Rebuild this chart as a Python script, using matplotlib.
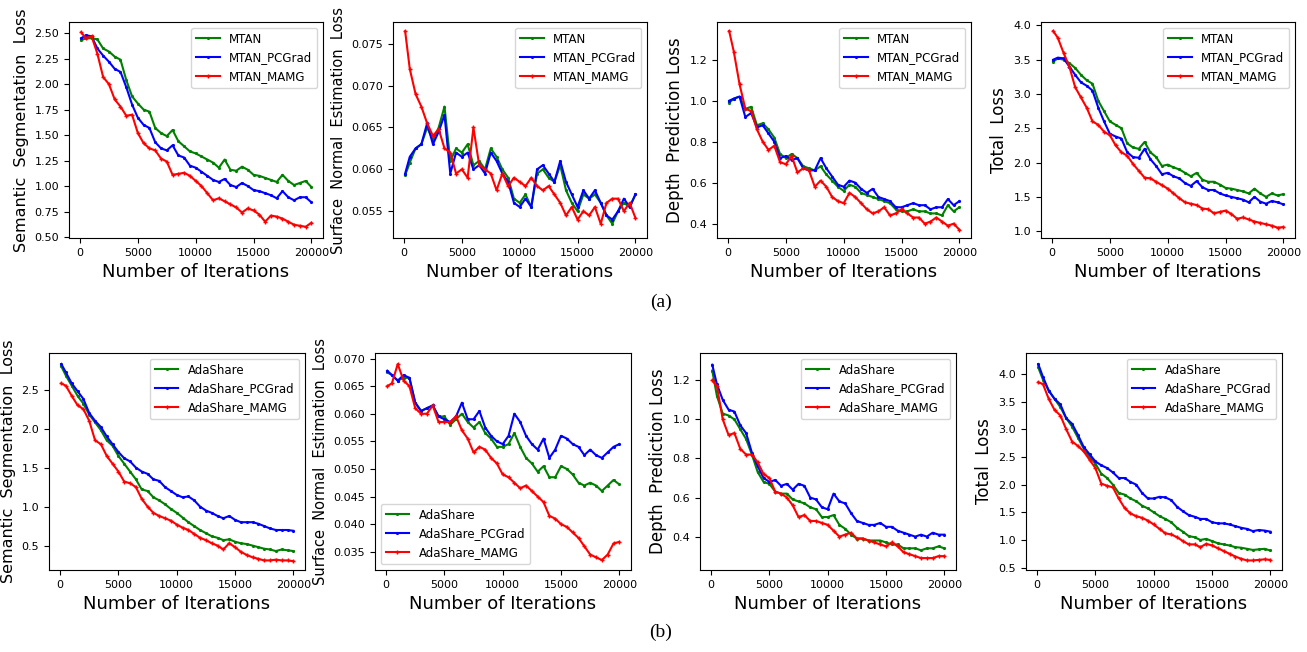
import matplotlib
matplotlib.use("Agg")
import matplotlib.pyplot as plt
import numpy as np

# iterations (common grid)
iters = [100] + list(range(500, 20001, 500))

# ---------------- (a) MTAN ----------------
mtan_seg = [2.43, 2.45, 2.45, 2.44, 2.35, 2.32, 2.27, 2.24, 2.04, 1.88, 1.81, 1.75, 1.73, 1.57,
            1.52, 1.49, 1.55, 1.44, 1.39, 1.34, 1.32, 1.29, 1.26, 1.23, 1.18, 1.26, 1.16, 1.15,
            1.19, 1.16, 1.11, 1.10, 1.08, 1.06, 1.04, 1.11, 1.05, 1.01, 1.03, 1.05, 0.99]
mtan_pc_seg = [2.45, 2.48, 2.47, 2.35, 2.28, 2.22, 2.15, 2.12, 1.97, 1.80, 1.67, 1.60, 1.57, 1.43,
               1.37, 1.35, 1.40, 1.30, 1.28, 1.20, 1.18, 1.14, 1.10, 1.06, 1.04, 1.07, 1.01, 0.99,
               1.03, 1.00, 0.96, 0.95, 0.93, 0.91, 0.88, 0.95, 0.89, 0.86, 0.89, 0.89, 0.84]
mtan_ma_seg = [2.51, 2.45, 2.47, 2.30, 2.07, 2.00, 1.85, 1.78, 1.69, 1.70, 1.52, 1.42, 1.37, 1.35,
               1.27, 1.24, 1.11, 1.12, 1.13, 1.10, 1.05, 1.00, 0.93, 0.86, 0.88, 0.85, 0.82, 0.79,
               0.74, 0.78, 0.76, 0.72, 0.65, 0.71, 0.70, 0.68, 0.65, 0.62, 0.61, 0.60, 0.64]

mtan_sn = [0.0593, 0.0608, 0.0625, 0.0630, 0.0650, 0.0635, 0.0650, 0.0675, 0.0610, 0.0625, 0.0620,
           0.0630, 0.0605, 0.0610, 0.0600, 0.0625, 0.0615, 0.0600, 0.0590, 0.0565, 0.0560, 0.0570,
           0.0555, 0.0595, 0.0600, 0.0590, 0.0585, 0.0605, 0.0575, 0.0560, 0.0550, 0.0570, 0.0565,
           0.0570, 0.0560, 0.0545, 0.0535, 0.0550, 0.0560, 0.0555, 0.0570]
mtan_pc_sn = [0.0595, 0.0615, 0.0625, 0.0630, 0.0655, 0.0630, 0.0645, 0.0665, 0.0595, 0.0620, 0.0615,
              0.0620, 0.0600, 0.0605, 0.0595, 0.0620, 0.0610, 0.0595, 0.0585, 0.0560, 0.0555, 0.0565,
              0.0555, 0.0600, 0.0605, 0.0595, 0.0585, 0.0610, 0.0585, 0.0570, 0.0555, 0.0575, 0.0565,
              0.0575, 0.0560, 0.0545, 0.0540, 0.0550, 0.0565, 0.0555, 0.0570]
mtan_ma_sn = [0.0765, 0.0720, 0.0690, 0.0675, 0.0655, 0.0640, 0.0648, 0.0625, 0.0620, 0.0595, 0.0600,
              0.0590, 0.0650, 0.0605, 0.0600, 0.0595, 0.0575, 0.0595, 0.0580, 0.0590, 0.0585, 0.0580,
              0.0590, 0.0580, 0.0575, 0.0580, 0.0570, 0.0560, 0.0545, 0.0555, 0.0540, 0.0550, 0.0545,
              0.0555, 0.0535, 0.0560, 0.0565, 0.0565, 0.0550, 0.0560, 0.0542]

mtan_dep = [0.99, 1.01, 1.02, 0.96, 0.97, 0.88, 0.89, 0.86, 0.82, 0.74, 0.72, 0.74, 0.72, 0.68,
            0.67, 0.66, 0.68, 0.64, 0.61, 0.58, 0.56, 0.59, 0.58, 0.55, 0.54, 0.53, 0.52, 0.51,
            0.50, 0.47, 0.46, 0.46, 0.47, 0.46, 0.46, 0.45, 0.45, 0.44, 0.49, 0.46, 0.48]
mtan_pc_dep = [1.00, 1.01, 1.02, 0.92, 0.94, 0.87, 0.88, 0.84, 0.80, 0.72, 0.73, 0.71, 0.72, 0.67,
               0.66, 0.66, 0.72, 0.67, 0.63, 0.59, 0.58, 0.61, 0.60, 0.57, 0.55, 0.57, 0.53, 0.52,
               0.51, 0.48, 0.48, 0.49, 0.50, 0.49, 0.49, 0.47, 0.48, 0.48, 0.52, 0.49, 0.51]
mtan_ma_dep = [1.34, 1.24, 1.08, 0.96, 0.95, 0.86, 0.80, 0.76, 0.78, 0.70, 0.69, 0.73, 0.65, 0.67,
               0.66, 0.58, 0.61, 0.58, 0.53, 0.51, 0.50, 0.55, 0.53, 0.50, 0.47, 0.45, 0.46, 0.48,
               0.44, 0.45, 0.47, 0.45, 0.43, 0.43, 0.40, 0.41, 0.43, 0.41, 0.39, 0.40, 0.37]

mtan_tot = [3.47, 3.52, 3.50, 3.45, 3.38, 3.28, 3.20, 3.15, 2.90, 2.75, 2.60, 2.55, 2.50, 2.28,
            2.22, 2.20, 2.30, 2.15, 2.08, 1.95, 1.97, 1.93, 1.90, 1.85, 1.80, 1.85, 1.75, 1.72,
            1.72, 1.68, 1.63, 1.62, 1.60, 1.58, 1.55, 1.62, 1.55, 1.50, 1.55, 1.52, 1.54]
mtan_pc_tot = [3.50, 3.53, 3.52, 3.40, 3.28, 3.17, 3.12, 3.05, 2.80, 2.60, 2.42, 2.38, 2.35, 2.15,
               2.08, 2.07, 2.20, 2.05, 1.95, 1.83, 1.85, 1.80, 1.77, 1.70, 1.66, 1.73, 1.64, 1.60,
               1.60, 1.55, 1.52, 1.50, 1.48, 1.46, 1.42, 1.50, 1.43, 1.40, 1.44, 1.42, 1.39]
mtan_ma_tot = [3.92, 3.82, 3.60, 3.40, 3.10, 2.95, 2.80, 2.60, 2.55, 2.45, 2.40, 2.25, 2.15, 2.10,
               1.98, 1.88, 1.78, 1.77, 1.72, 1.67, 1.62, 1.55, 1.48, 1.42, 1.40, 1.38, 1.33, 1.32,
               1.26, 1.28, 1.30, 1.25, 1.18, 1.20, 1.17, 1.14, 1.12, 1.10, 1.08, 1.05, 1.06]

# ---------------- (b) AdaShare ----------------
ada_seg = [2.80, 2.68, 2.55, 2.42, 2.32, 2.18, 2.08, 1.98, 1.85, 1.78, 1.65, 1.55, 1.45, 1.35,
           1.22, 1.20, 1.12, 1.08, 1.03, 0.97, 0.92, 0.86, 0.80, 0.75, 0.70, 0.66, 0.62, 0.60,
           0.57, 0.58, 0.55, 0.53, 0.52, 0.50, 0.48, 0.46, 0.45, 0.43, 0.45, 0.44, 0.43]
ada_pc_seg = [2.83, 2.72, 2.58, 2.48, 2.38, 2.20, 2.10, 2.02, 1.90, 1.80, 1.70, 1.62, 1.58, 1.50,
              1.45, 1.42, 1.35, 1.33, 1.25, 1.20, 1.15, 1.12, 1.13, 1.08, 1.00, 0.95, 0.92, 0.88,
              0.85, 0.88, 0.83, 0.80, 0.80, 0.80, 0.78, 0.75, 0.72, 0.70, 0.70, 0.70, 0.69]
ada_ma_seg = [2.58, 2.55, 2.42, 2.30, 2.25, 2.10, 1.85, 1.80, 1.65, 1.55, 1.45, 1.32, 1.30, 1.25,
              1.10, 1.00, 0.92, 0.88, 0.85, 0.82, 0.77, 0.73, 0.70, 0.65, 0.60, 0.57, 0.53, 0.50,
              0.45, 0.53, 0.48, 0.42, 0.38, 0.35, 0.33, 0.31, 0.31, 0.32, 0.31, 0.31, 0.30]

ada_sn = [0.0675, 0.0670, 0.0660, 0.0665, 0.0665, 0.0620, 0.0605, 0.0610, 0.0615, 0.0595, 0.0595,
          0.0580, 0.0590, 0.0600, 0.0585, 0.0575, 0.0585, 0.0565, 0.0555, 0.0540, 0.0540, 0.0545,
          0.0565, 0.0540, 0.0520, 0.0510, 0.0495, 0.0505, 0.0485, 0.0485, 0.0505, 0.0500, 0.0490,
          0.0475, 0.0470, 0.0475, 0.0470, 0.0460, 0.0470, 0.0480, 0.0472]
ada_pc_sn = [0.0678, 0.0670, 0.0660, 0.0670, 0.0665, 0.0620, 0.0605, 0.0610, 0.0615, 0.0595, 0.0590,
             0.0585, 0.0595, 0.0620, 0.0590, 0.0590, 0.0605, 0.0575, 0.0560, 0.0550, 0.0545, 0.0560,
             0.0600, 0.0585, 0.0560, 0.0545, 0.0535, 0.0555, 0.0520, 0.0535, 0.0560, 0.0555, 0.0545,
             0.0540, 0.0525, 0.0535, 0.0525, 0.0520, 0.0530, 0.0540, 0.0545]
ada_ma_sn = [0.0650, 0.0655, 0.0690, 0.0660, 0.0650, 0.0610, 0.0600, 0.0600, 0.0615, 0.0585, 0.0585,
             0.0585, 0.0595, 0.0570, 0.0555, 0.0530, 0.0540, 0.0535, 0.0520, 0.0510, 0.0490, 0.0485,
             0.0475, 0.0465, 0.0470, 0.0460, 0.0450, 0.0440, 0.0415, 0.0410, 0.0400, 0.0395, 0.0385,
             0.0375, 0.0360, 0.0345, 0.0340, 0.0335, 0.0345, 0.0365, 0.0368]

ada_dep = [1.25, 1.12, 1.03, 1.02, 1.00, 0.95, 0.90, 0.82, 0.73, 0.68, 0.67, 0.63, 0.62, 0.62,
           0.59, 0.58, 0.57, 0.55, 0.54, 0.50, 0.50, 0.51, 0.46, 0.44, 0.41, 0.39, 0.39, 0.38,
           0.38, 0.38, 0.37, 0.36, 0.36, 0.34, 0.34, 0.34, 0.33, 0.34, 0.34, 0.35, 0.34]
ada_pc_dep = [1.28, 1.18, 1.10, 1.05, 1.04, 0.97, 0.93, 0.83, 0.76, 0.70, 0.68, 0.69, 0.66, 0.67,
              0.64, 0.67, 0.66, 0.60, 0.59, 0.55, 0.54, 0.62, 0.58, 0.57, 0.52, 0.48, 0.47, 0.46,
              0.46, 0.47, 0.45, 0.45, 0.43, 0.42, 0.41, 0.40, 0.41, 0.40, 0.42, 0.41, 0.41]
ada_ma_dep = [1.20, 1.17, 1.00, 0.92, 0.93, 0.85, 0.82, 0.82, 0.78, 0.72, 0.70, 0.63, 0.62, 0.60,
              0.56, 0.50, 0.51, 0.48, 0.48, 0.47, 0.46, 0.43, 0.40, 0.41, 0.42, 0.39, 0.39, 0.38,
              0.37, 0.36, 0.35, 0.37, 0.35, 0.32, 0.31, 0.30, 0.29, 0.29, 0.29, 0.30, 0.30]

ada_tot = [4.12, 3.90, 3.70, 3.55, 3.40, 3.20, 3.05, 2.85, 2.65, 2.50, 2.38, 2.20, 2.12, 2.00,
           1.85, 1.82, 1.75, 1.70, 1.62, 1.57, 1.50, 1.43, 1.38, 1.32, 1.22, 1.15, 1.07, 1.05,
           1.00, 1.02, 0.98, 0.94, 0.92, 0.90, 0.87, 0.86, 0.84, 0.82, 0.83, 0.84, 0.81]
ada_pc_tot = [4.18, 3.95, 3.70, 3.55, 3.45, 3.20, 3.10, 2.90, 2.68, 2.55, 2.42, 2.35, 2.30, 2.22,
              2.12, 2.12, 2.05, 2.00, 1.85, 1.75, 1.75, 1.78, 1.77, 1.72, 1.60, 1.52, 1.45, 1.42,
              1.38, 1.38, 1.32, 1.30, 1.30, 1.28, 1.25, 1.22, 1.20, 1.16, 1.18, 1.17, 1.15]
ada_ma_tot = [3.85, 3.82, 3.55, 3.35, 3.25, 3.00, 2.78, 2.70, 2.60, 2.45, 2.30, 2.02, 1.98, 1.95,
              1.75, 1.58, 1.48, 1.43, 1.40, 1.35, 1.28, 1.20, 1.12, 1.10, 1.05, 0.98, 0.92, 0.92,
              0.87, 0.93, 0.90, 0.85, 0.80, 0.75, 0.70, 0.66, 0.63, 0.63, 0.64, 0.65, 0.64]

mtan_names = ['MTAN', 'MTAN_PCGrad', 'MTAN_MAMG']
ada_names = ['AdaShare', 'AdaShare_PCGrad', 'AdaShare_MAMG']

fig = plt.figure(figsize=(13.07, 6.52), dpi=100)
W, H = 1307.0, 652.0


def make_ax(x0, x1, y0, y1):
    return fig.add_axes([x0 / W, 1 - y1 / H, (x1 - x0) / W, (y1 - y0) / H])


def draw(ax, series, names, ylabel, ylim, yticks, ylsize, loc='upper right'):
    colors = ['g', 'b', 'r']
    markers = ['.', '.', '+']
    for ys, name, c, m in zip(series, names, colors, markers):
        ax.plot(iters, ys, color=c, marker=m, markersize=2.5, linewidth=1.5, label=name)
    ax.set_xlim(-950, 21000)
    ax.set_ylim(*ylim)
    ax.set_xticks([0, 5000, 10000, 15000, 20000])
    ax.set_yticks(yticks)
    ax.tick_params(labelsize=8)
    ax.set_xlabel('Number of Iterations', fontsize=13)
    ax.set_ylabel(ylabel, fontsize=ylsize)
    ax.legend(loc=loc, fontsize=8.5)


top = (22, 238)
bot = (353, 570)

a1 = make_ax(69, 323, *top)
draw(a1, [mtan_seg, mtan_pc_seg, mtan_ma_seg], mtan_names, 'Semantic  Segmentation  Loss',
     (0.49, 2.61), [0.5, 0.75, 1.0, 1.25, 1.5, 1.75, 2.0, 2.25, 2.5], 11.5)
a1.set_yticklabels(['0.50', '0.75', '1.00', '1.25', '1.50', '1.75', '2.00', '2.25', '2.50'])

a2 = make_ax(393, 647, *top)
draw(a2, [mtan_sn, mtan_pc_sn, mtan_ma_sn], mtan_names, 'Surface  Normal  Estimation  Loss',
     (0.0518, 0.0776), [0.055, 0.060, 0.065, 0.070, 0.075], 10.5)
a2.set_yticklabels(['0.055', '0.060', '0.065', '0.070', '0.075'])

a3 = make_ax(717, 971, *top)
draw(a3, [mtan_dep, mtan_pc_dep, mtan_ma_dep], mtan_names, 'Depth  Prediction Loss',
     (0.33, 1.384), [0.4, 0.6, 0.8, 1.0, 1.2], 12)

a4 = make_ax(1041, 1295, *top)
draw(a4, [mtan_tot, mtan_pc_tot, mtan_ma_tot], mtan_names, 'Total  Loss',
     (0.90, 4.05), [1.0, 1.5, 2.0, 2.5, 3.0, 3.5, 4.0], 12)

b1 = make_ax(49, 305, *bot)
draw(b1, [ada_seg, ada_pc_seg, ada_ma_seg], ada_names, 'Semantic  Segmentation  Loss',
     (0.187, 2.97), [0.5, 1.0, 1.5, 2.0, 2.5], 11.5)

b2 = make_ax(375, 631, *bot)
draw(b2, [ada_sn, ada_pc_sn, ada_ma_sn], ada_names, 'Surface  Normal  Estimation  Loss',
     (0.0317, 0.0710), [0.035, 0.040, 0.045, 0.050, 0.055, 0.060, 0.065, 0.070], 10.5,
     loc='lower left')
b2.set_yticklabels(['0.035', '0.040', '0.045', '0.050', '0.055', '0.060', '0.065', '0.070'])

b3 = make_ax(700, 956, *bot)
draw(b3, [ada_dep, ada_pc_dep, ada_ma_dep], ada_names, 'Depth  Prediction Loss',
     (0.229, 1.34), [0.4, 0.6, 0.8, 1.0, 1.2], 12)

b4 = make_ax(1026, 1282, *bot)
draw(b4, [ada_tot, ada_pc_tot, ada_ma_tot], ada_names, 'Total  Loss',
     (0.457, 4.38), [0.5, 1.0, 1.5, 2.0, 2.5, 3.0, 3.5, 4.0], 12)

fig.text(661 / W, 1 - 302 / H, '(a)', ha='center', va='center', fontsize=14,
         family='Liberation Serif')
fig.text(661 / W, 1 - 632 / H, '(b)', ha='center', va='center', fontsize=14,
         family='Liberation Serif')

fig.savefig('out.png', dpi=100)
